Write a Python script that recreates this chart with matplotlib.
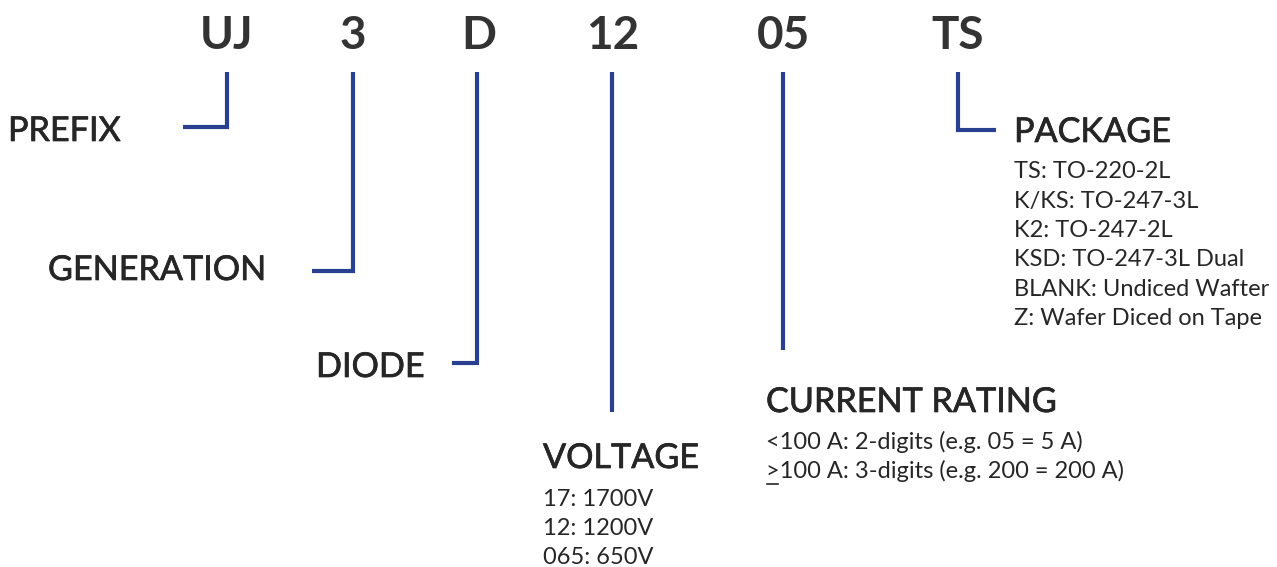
import matplotlib
matplotlib.use("Agg")
import matplotlib.pyplot as plt
import matplotlib.patheffects as pe

# part number segments and what they mean
codes = ["UJ", "3", "D", "12", "05", "TS"]
labels = ["PREFIX", "GENERATION", "DIODE", "VOLTAGE", "CURRENT RATING", "PACKAGE"]
details = [
    [],
    [],
    [],
    ["17: 1700V", "12: 1200V", "065: 650V"],
    ["<100 A: 2-digits (e.g. 05 = 5 A)", ">100 A: 3-digits (e.g. 200 = 200 A)"],
    ["TS: TO-220-2L", "K/KS: TO-247-3L", "K2: TO-247-2L", "KSD: TO-247-3L Dual",
     "BLANK: Undiced Wafter", "Z: Wafer Diced on Tape"],
]

# layout (pixel coords, y down)
code_x = [227, 353, 479, 613, 783, 958]
line_x = [227, 353, 477, 612, 783, 958]
line_end = [127, 271, 363, 412, 350, 130]
hook_to = [183, 312, 452, None, None, 996]
label_x = [8, 48, 316, 543, 766, 1014]
label_y = [131, 270, 367, 458, 402, 132]
detail_gap = [0, 0, 0, 41, 40, 40]

NAVY = "#293f8f"
DARK = "#262626"
plt.rcParams["font.family"] = ["Lato", "DejaVu Sans"]

fig = plt.figure(figsize=(12.77, 5.67), dpi=100)
ax = fig.add_axes([0, 0, 1, 1])
ax.set_xlim(0, 1277)
ax.set_ylim(567, 0)
ax.axis("off")

heavier = [pe.withStroke(linewidth=0.5, foreground=DARK)]

for i, code in enumerate(codes):
    ax.text(code_x[i], 36, code, ha="center", va="center", fontsize=33,
            fontweight="bold", color="#333333")
    xs = [line_x[i], line_x[i]]
    ys = [72, line_end[i]]
    if hook_to[i] is not None:
        xs.append(hook_to[i])
        ys.append(line_end[i])
    ax.plot(xs, ys, color=NAVY, lw=3, solid_joinstyle="miter", solid_capstyle="butt")

    ax.text(label_x[i], label_y[i], labels[i], ha="left", va="center", fontsize=24.6,
            color=DARK, path_effects=heavier)
    for j, d in enumerate(details[i]):
        y = label_y[i] + detail_gap[i] + j * 29.3
        ax.text(label_x[i], y, d, ha="left", va="center", fontsize=17, color=DARK)
        if d.startswith(">"):
            # ">" is underlined in the original (meaning >=)
            ax.plot([label_x[i] + 1, label_x[i] + 12], [y + 13, y + 13], color=DARK, lw=1.2)

fig.savefig("out.png", dpi=100)
